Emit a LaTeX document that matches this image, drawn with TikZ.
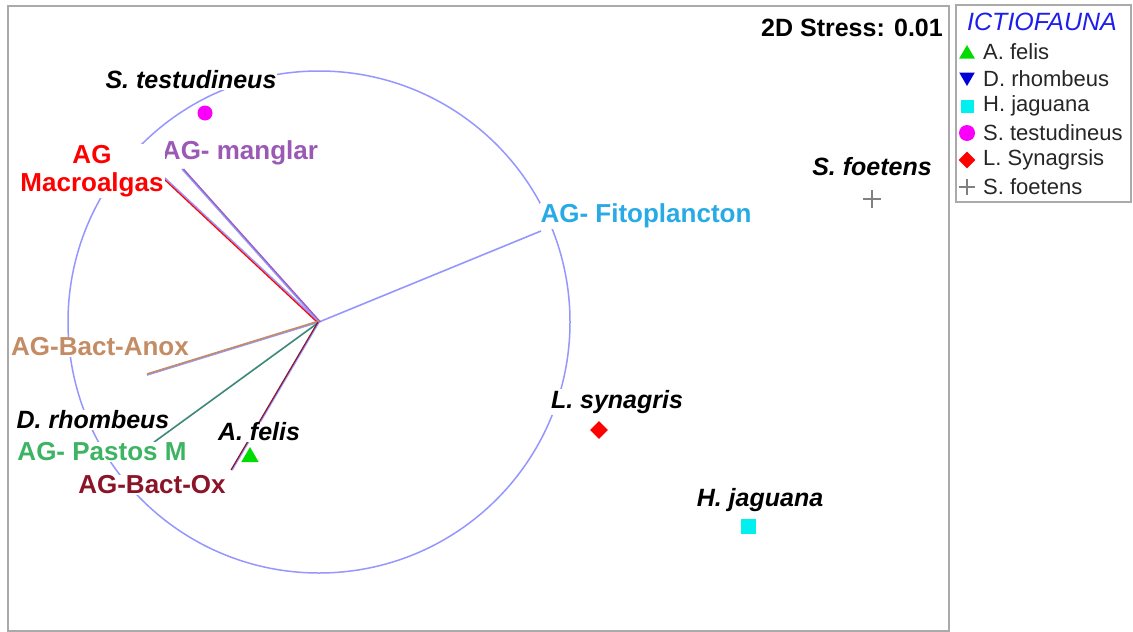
\documentclass[tikz,border=0pt]{standalone}
\usepackage{fontspec}
\setmainfont{Liberation Sans}
\usetikzlibrary{shapes.geometric}

\definecolor{circblue}{RGB}{150,150,255}
\definecolor{framegray}{RGB}{170,170,170}
\definecolor{fitoblue}{RGB}{40,170,230}
\definecolor{mangpurple}{RGB}{155,89,182}
\definecolor{anoxtan}{RGB}{196,140,100}
\definecolor{pastogreen}{RGB}{60,180,100}
\definecolor{oxmaroon}{RGB}{140,20,40}
\definecolor{titleblue}{RGB}{30,30,235}
\definecolor{markcyan}{RGB}{0,240,240}
\definecolor{markpink}{RGB}{250,0,250}
\definecolor{markgreen}{RGB}{0,220,0}

\tikzset{
  vecline/.style={draw=circblue, line width=1.6},
  varlabel/.style={fill=white, inner sep=1pt, font=\fontsize{26}{28}\selectfont\bfseries, align=center},
  spelabel/.style={fill=white, inner sep=1pt, font=\fontsize{25}{27}\selectfont\bfseries\itshape},
  legtext/.style={anchor=west, inner sep=0pt, font=\fontsize{22}{24}\selectfont, text=black!85},
  trimark/.style={regular polygon, regular polygon sides=3, inner sep=0pt, minimum size=20pt},
  sqmark/.style={rectangle, inner sep=0pt, minimum size=15pt},
  dotmark/.style={circle, inner sep=0pt, minimum size=15pt},
  diamark/.style={diamond, inner sep=0pt, minimum size=18pt}
}

\begin{document}
\begin{tikzpicture}[x=1pt, y=-1pt]
		\useasboundingbox[fill=white] (0,0) rectangle (1133,632);

		% frames
		\draw[framegray, line width=2] (8,6) rectangle (949,631);
		\draw[framegray, line width=1.5] (956,5) rectangle (1131,202);

		\coordinate (o) at (319,322);
		\draw[circblue, line width=1.5] (o) circle (251);

		% vectors
		\coordinate (eFito) at (541,231);
		\coordinate (eMang) at (182,169);
		\coordinate (eMacro) at (137,152);
		\coordinate (eAnox) at (147,375);
		\coordinate (ePasto) at (154,442);
		\coordinate (eOx) at (232,470);

		\draw[vecline] (o) -- (eFito);
		\draw[vecline] (o) -- (eMang);
		\draw[vecline] (o) -- (eMacro);
		\draw[vecline] (o) -- (eAnox);
		\draw[vecline] (o) -- (ePasto);
		\draw[vecline] (o) -- (eOx);

		\draw[mangpurple, line width=1.2, transform canvas={xshift=1.5pt}] (o) -- (eMang);
		\draw[red, line width=1.2, transform canvas={xshift=-2pt}] (o) -- (eMacro);
		\draw[anoxtan, line width=1.6, transform canvas={yshift=1pt}] (o) -- (eAnox);
		\draw[pastogreen!80!black, line width=1.2, transform canvas={xshift=-1pt, yshift=-1pt}] (o) -- (ePasto);
		\draw[oxmaroon, line width=1.2, transform canvas={xshift=-1pt}] (o) -- (eOx);

		% variable labels
		\node[varlabel, text=fitoblue] (lFito) at (646,216) {AG- Fitoplancton};
		\node[varlabel, text=mangpurple] (lMang) at (240,153) {AG- manglar};
		\node[varlabel, text=red] (lMacro) at (92,171) {AG\\Macroalgas};
		\node[varlabel, text=anoxtan] (lAnox) at (100,347) {AG-Bact-Anox};
		\node[varlabel, text=pastogreen] (lPasto) at (102,452) {AG- Pastos M};
		\node[varlabel, text=oxmaroon] (lOx) at (152,485) {AG-Bact-Ox};

		% species
		\node[spelabel] (sTest) at (191,80) {S. testudineus};
		\node[spelabel] (sRhom) at (93,420) {D. rhombeus};
		\node[spelabel] (sFelis) at (259,432) {A. felis};
		\node[spelabel] (sSyn) at (617,402) {L. synagris};
		\node[spelabel] (sJag) at (760,500) {H. jaguana};
		\node[spelabel] (sFoet) at (872,167) {S. foetens};

		\node[dotmark, fill=markpink] (pTest) at (205,113) {};
		\node[trimark, fill=markgreen] (pFelis) at (250,457) {};
		\node[diamark, fill=red] (pSyn) at (599,430) {};
		\node[sqmark, fill=markcyan] (pJag) at (748,526) {};
		\coordinate (pFoet) at (872,199);
		\draw[gray, line width=1.8] ([xshift=-9pt]pFoet) -- ([xshift=9pt]pFoet);
		\draw[gray, line width=1.8] ([yshift=-9pt]pFoet) -- ([yshift=9pt]pFoet);

		\node[anchor=east, inner sep=0pt, font=\fontsize{25}{28}\selectfont\bfseries] (stress) at (943,28) {2D Stress: 0.01};

		% legend
		\node[inner sep=0pt, font=\fontsize{25}{26}\selectfont\itshape, text=titleblue] (legTitle) at (1042,22) {ICTIOFAUNA};

		\node[trimark, fill=markgreen, minimum size=18pt] (kFelis) at (967,54) {};
		\node[trimark, fill=blue!85!black, minimum size=18pt, shape border rotate=180] (kRhom) at (967,77) {};
		\node[sqmark, fill=markcyan, minimum size=13pt] (kJag) at (967,106) {};
		\node[dotmark, fill=markpink, minimum size=16pt] (kTest) at (967,133) {};
		\node[diamark, fill=red, minimum size=17pt] (kSyn) at (967,160) {};
		\coordinate (kFoet) at (967,187);
		\draw[gray, line width=1.8] ([xshift=-8pt]kFoet) -- ([xshift=8pt]kFoet);
		\draw[gray, line width=1.8] ([yshift=-8pt]kFoet) -- ([yshift=8pt]kFoet);

		\node[legtext] (tFelis) at (983,52) {A. felis};
		\node[legtext] (tRhom) at (983,79) {D. rhombeus};
		\node[legtext] (tJag) at (983,106) {H. jaguana};
		\node[legtext] (tTest) at (983,133) {S. testudineus};
		\node[legtext] (tSyn) at (983,160) {L. Synagrsis};
		\node[legtext] (tFoet) at (983,187) {S. foetens};
	\end{tikzpicture}
\end{document}
